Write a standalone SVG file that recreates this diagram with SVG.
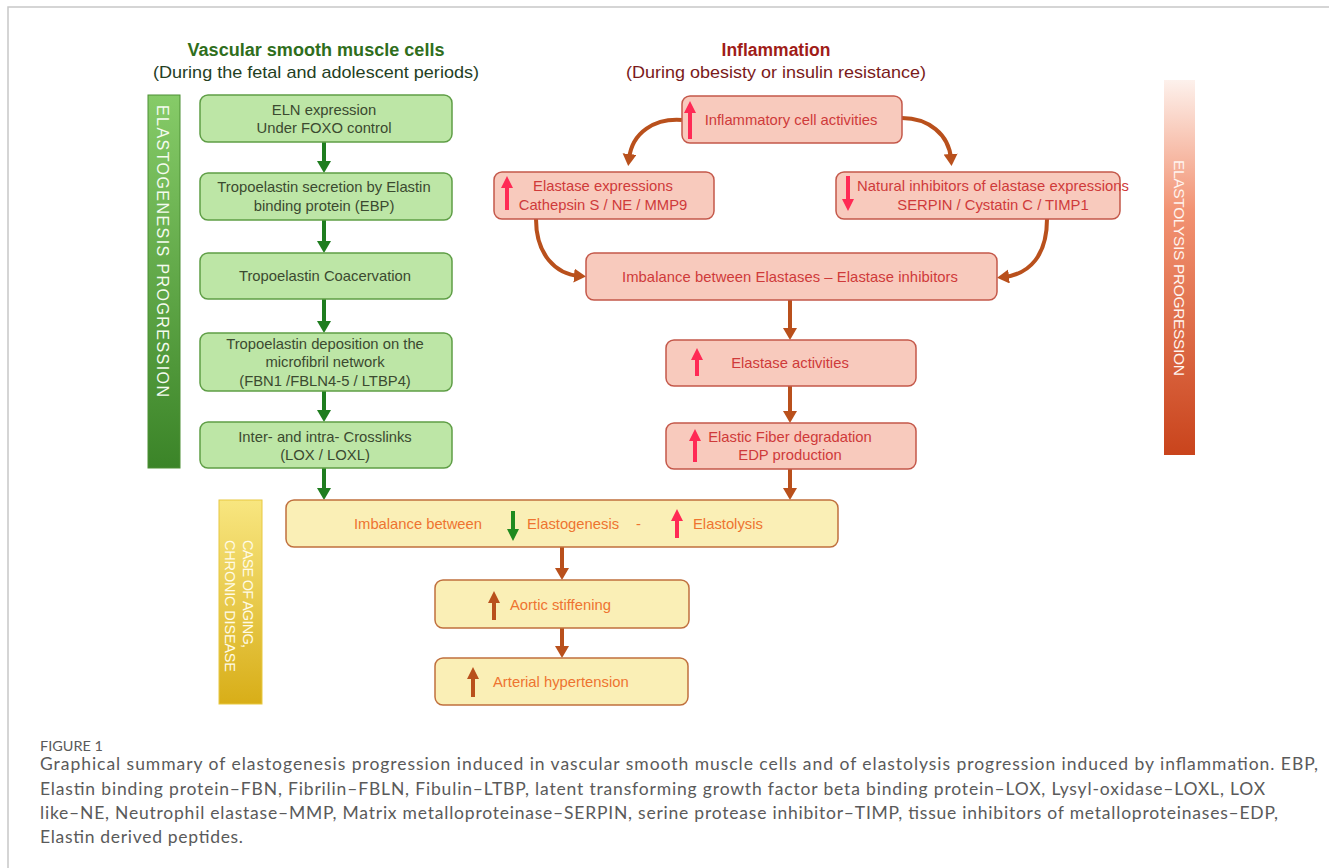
<svg xmlns="http://www.w3.org/2000/svg" width="1329" height="868" viewBox="0 0 1329 868">
<defs>
<style>
text{font-family:"Liberation Sans",Arial,sans-serif;}
.gbox{fill:#bde6a6;stroke:#5f9e46;stroke-width:1.5;}
.rbox{fill:#f8cabd;stroke:#c4584a;stroke-width:1.5;}
.ybox{fill:#faefb6;stroke:#c0703e;stroke-width:1.5;}
.gt{fill:#3b4a30;font-size:14.8px;text-anchor:middle;}
.rt{fill:#cf3a3a;font-size:14.8px;text-anchor:middle;}
.yt{fill:#ee7430;font-size:14.8px;}
.gc{stroke:#1f7d1f;stroke-width:4;fill:none;marker-end:url(#ahG);}
.bc{stroke:#b9501c;stroke-width:4;fill:none;marker-end:url(#ahB);}
.upR{fill:#ff2a55;}
.upG{fill:#1f8a1f;}
.upB{fill:#b9501c;}
.bar{font-size:16px;fill:#f4fbef;}
.cap{font-family:Lato,"Open Sans","Liberation Sans",sans-serif;fill:#5a5a5a;font-size:17.5px;}
</style>
<marker id="ahG" markerUnits="userSpaceOnUse" markerWidth="15" markerHeight="15" refX="5" refY="7" orient="auto"><path d="M0,0 L12,7 L0,14 Z" fill="#1f7d1f"/></marker>
<marker id="ahB" markerUnits="userSpaceOnUse" markerWidth="15" markerHeight="15" refX="5" refY="7" orient="auto"><path d="M0,0 L12,7 L0,14 Z" fill="#b9501c"/></marker>
<linearGradient id="gGreen" x1="0" y1="0" x2="0" y2="1"><stop offset="0" stop-color="#86cb68"/><stop offset="1" stop-color="#3b8428"/></linearGradient>
<linearGradient id="gRed" x1="0" y1="0" x2="0" y2="1"><stop offset="0" stop-color="#fdf1ec"/><stop offset="0.35" stop-color="#f29272"/><stop offset="1" stop-color="#c9441c"/></linearGradient>
<linearGradient id="gYel" x1="0" y1="0" x2="0" y2="1"><stop offset="0" stop-color="#f8e680"/><stop offset="1" stop-color="#d8ae18"/></linearGradient>
</defs>

<rect x="8" y="7" width="1340" height="900" fill="#fff" stroke="#c8c8c8" stroke-width="1.5"/>

<g id="titles">
<text x="316" y="56" font-size="18" font-weight="bold" fill="#2f6e1c" text-anchor="middle" textLength="257" lengthAdjust="spacingAndGlyphs">Vascular smooth muscle cells</text>
<text x="316" y="78" font-size="17" fill="#24401f" text-anchor="middle" textLength="326" lengthAdjust="spacingAndGlyphs">(During the fetal and adolescent periods)</text>
<text x="776" y="56" font-size="17.5" font-weight="bold" fill="#a01c18" text-anchor="middle">Inflammation</text>
<text x="776" y="78" font-size="17" fill="#7a1a1a" text-anchor="middle" textLength="300" lengthAdjust="spacingAndGlyphs">(During obesisty or insulin resistance)</text>
</g>

<g id="bar-elastogenesis">
<rect x="148" y="95" width="32" height="373" fill="url(#gGreen)" stroke="#4d8f35" stroke-width="1"/>
<text class="bar" transform="translate(157,105) rotate(90)" textLength="292" lengthAdjust="spacing">ELASTOGENESIS  PROGRESSION</text>
</g>
<g id="bar-elastolysis">
<rect x="1164" y="80" width="31" height="375" fill="url(#gRed)"/>
<text class="bar" transform="translate(1174,160) rotate(90)" textLength="216" lengthAdjust="spacing" style="fill:#fff4ef;font-size:15.5px">ELASTOLYSIS  PROGRESSION</text>
</g>
<g id="bar-aging">
<rect x="219" y="500" width="43" height="204" fill="url(#gYel)" stroke="#e8c840" stroke-width="1"/>
<text class="bar" style="fill:#fffbe6;font-size:14.5px" transform="translate(243,540) rotate(90)" textLength="108" lengthAdjust="spacing">CASE OF AGING,</text>
<text class="bar" style="fill:#fffbe6;font-size:14.5px" transform="translate(225,540) rotate(90)" textLength="132" lengthAdjust="spacing">CHRONIC DISEASE</text>
</g>

<g id="connectors">
<line class="gc" x1="324" y1="142" x2="324" y2="166"/>
<line class="gc" x1="324" y1="220" x2="324" y2="246"/>
<line class="gc" x1="324" y1="299" x2="324" y2="326"/>
<line class="gc" x1="324" y1="391" x2="324" y2="415"/>
<line class="gc" x1="324" y1="468" x2="324" y2="493"/>
<path class="bc" d="M682,120 C655,118 632,132 629,159"/>
<path class="bc" d="M902,118 C928,118 949,134 951,159"/>
<path class="bc" d="M536,219 C536,255 556,274 579,276"/>
<path class="bc" d="M1047,219 C1047,255 1030,274 1004,277"/>
<line class="bc" x1="790" y1="300" x2="790" y2="333"/>
<line class="bc" x1="790" y1="386" x2="790" y2="416"/>
<line class="bc" x1="790" y1="469" x2="790" y2="493"/>
<line class="bc" x1="562" y1="547" x2="562" y2="573"/>
<line class="bc" x1="562" y1="628" x2="562" y2="651"/>
</g>

<g id="n-eln">
<rect class="gbox" x="200" y="95" width="252" height="47" rx="8"/>
<text class="gt" x="324" y="115">ELN expression</text>
<text class="gt" x="324" y="133">Under  FOXO  control</text>
</g>
<g id="n-secretion">
<rect class="gbox" x="200" y="173" width="252" height="47" rx="8"/>
<text class="gt" x="324" y="192">Tropoelastin  secretion by Elastin</text>
<text class="gt" x="324" y="211">binding protein (EBP)</text>
</g>
<g id="n-coacervation">
<rect class="gbox" x="200" y="253" width="252" height="46" rx="8"/>
<text class="gt" x="325" y="281">Tropoelastin  Coacervation</text>
</g>
<g id="n-deposition">
<rect class="gbox" x="200" y="333" width="252" height="58" rx="8"/>
<text class="gt" x="325" y="349">Tropoelastin  deposition on the</text>
<text class="gt" x="325" y="367">microfibril  network</text>
<text class="gt" x="325" y="386">(FBN1 /FBLN4-5  / LTBP4)</text>
</g>
<g id="n-crosslinks">
<rect class="gbox" x="200" y="422" width="252" height="46" rx="8"/>
<text class="gt" x="325" y="442">Inter-  and intra- Crosslinks</text>
<text class="gt" x="325" y="460">(LOX  / LOXL)</text>
</g>

<g id="n-inflammatory">
<rect class="rbox" x="682" y="96" width="220" height="47" rx="8"/>
<polygon class="upR" points="688,139 688,113 684,113 690,101 696,113 692,113 692,139"/>
<text class="rt" x="791" y="125">Inflammatory  cell activities</text>
</g>
<g id="n-elastase-expr">
<rect class="rbox" x="494" y="172" width="220" height="47" rx="8"/>
<polygon class="upR" points="505,210 505,188 501,188 507,176 513,188 509,188 509,210"/>
<text class="rt" x="603" y="191">Elastase expressions</text>
<text class="rt" x="603" y="210">Cathepsin S / NE / MMP9</text>
</g>
<g id="n-inhibitors">
<rect class="rbox" x="836" y="172" width="284" height="47" rx="8"/>
<polygon class="upR" points="846,176 846,199 842,199 848,211 854,199 850,199 850,176"/>
<text class="rt" x="993" y="191" textLength="272" lengthAdjust="spacing">Natural  inhibitors  of  elastase  expressions</text>
<text class="rt" x="993" y="210">SERPIN  / Cystatin C / TIMP1</text>
</g>
<g id="n-imbalance-el">
<rect class="rbox" x="586" y="253" width="411" height="47" rx="8"/>
<text class="rt" x="790" y="282" textLength="336" lengthAdjust="spacing">Imbalance  between  Elastases – Elastase inhibitors</text>
</g>
<g id="n-elastase-act">
<rect class="rbox" x="666" y="340" width="250" height="46" rx="8"/>
<polygon class="upR" points="695,376 695,360 691,360 697,348 703,360 699,360 699,376"/>
<text class="rt" x="790" y="368">Elastase activities</text>
</g>
<g id="n-degradation">
<rect class="rbox" x="666" y="423" width="250" height="46" rx="8"/>
<polygon class="upR" points="693,462 693,441 689,441 695,429 701,441 697,441 697,462"/>
<text class="rt" x="790" y="442">Elastic Fiber  degradation</text>
<text class="rt" x="790" y="460">EDP  production</text>
</g>

<g id="n-imbalance-main">
<rect class="ybox" x="286" y="500" width="552" height="47" rx="8"/>
<text class="yt" x="354" y="529" textLength="128" lengthAdjust="spacing">Imbalance  between</text>
<polygon class="upG" points="511,511 511,529 507,529 513,541 519,529 515,529 515,511"/>
<text class="yt" x="527" y="529">Elastogenesis</text>
<text class="yt" x="636" y="529">-</text>
<polygon class="upR" points="675,538 675,521 671,521 677,509 683,521 679,521 679,538"/>
<text class="yt" x="693" y="529">Elastolysis</text>
</g>
<g id="n-aortic">
<rect class="ybox" x="435" y="580" width="254" height="48" rx="8"/>
<polygon class="upB" points="492,620 492,603 488,603 494,591 500,603 496,603 496,620"/>
<text class="yt" x="510" y="610">Aortic stiffening</text>
</g>
<g id="n-hypertension">
<rect class="ybox" x="435" y="658" width="253" height="47" rx="8"/>
<polygon class="upB" points="471,697 471,679 467,679 473,667 479,679 475,679 475,697"/>
<text class="yt" x="493" y="687">Arterial hypertension</text>
</g>

<g id="caption">
<text class="cap" x="40" y="751" style="font-size:14px" textLength="63" lengthAdjust="spacingAndGlyphs">FIGURE 1</text>
<text class="cap" x="40" y="770" textLength="1278" lengthAdjust="spacing">Graphical summary of elastogenesis progression induced in vascular smooth muscle cells and of elastolysis progression induced by inflammation. EBP,</text>
<text class="cap" x="40" y="795" textLength="1225" lengthAdjust="spacing">Elastin binding protein–FBN, Fibrilin–FBLN, Fibulin–LTBP, latent transforming growth factor beta binding protein–LOX, Lysyl-oxidase–LOXL, LOX</text>
<text class="cap" x="40" y="819" textLength="1238" lengthAdjust="spacing">like–NE, Neutrophil elastase–MMP, Matrix metalloproteinase–SERPIN, serine protease inhibitor–TIMP, tissue inhibitors of metalloproteinases–EDP,</text>
<text class="cap" x="40" y="843" textLength="203" lengthAdjust="spacing">Elastin derived peptides.</text>
</g>
</svg>
